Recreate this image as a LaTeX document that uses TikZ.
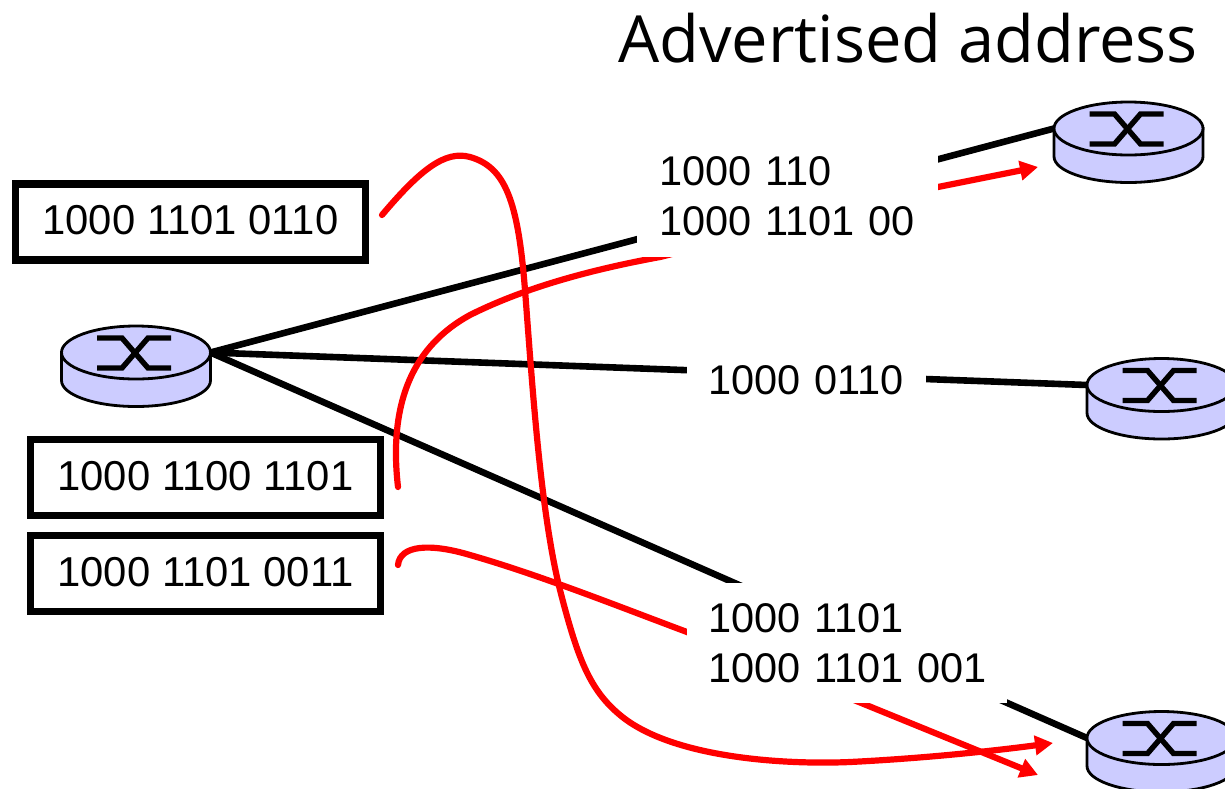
\documentclass[tikz,border=0pt]{standalone}
\usepackage{fontspec}
\setmainfont{Liberation Sans}
\newfontfamily\titlefont{Open Sans}
\usetikzlibrary{shapes.geometric,arrows.meta}
\definecolor{routerfill}{HTML}{CCCCFF}
\definecolor{redline}{HTML}{FF0000}
\tikzset{
  routertop/.style={ellipse,draw=black,fill=routerfill,line width=2.8pt,minimum width=149pt,minimum height=53pt,inner sep=0pt,outer sep=0pt},
  routerside/.style={draw=black,fill=routerfill,line width=2.8pt},
  routercross/.style={draw=black,line width=5.4pt,line join=miter},
  link/.style={draw=black,line width=6.6pt},
  redpath/.style={draw=redline,line width=6.2pt,line cap=round},
  redarrow/.style={redpath,-{Triangle[length=18pt,width=19pt]}},
  addrbox/.style={draw=black,line width=7.4pt,minimum width=350pt,minimum height=76pt,inner sep=0pt,font=\fontsize{41.8}{50}\selectfont},
  mask/.style={fill=white,inner sep=0pt,align=left,anchor=north west,font=\fontsize{41.5}{50}\selectfont},
}
\newcommand{\rtr}[3]{%
  \begin{scope}[shift={(#2,#3)}]
    \path[routerside] (-74.5,0) -- (-74.5,28) arc (180:360:74.5pt and 26pt) -- (74.5,0) -- cycle;
    \node[routertop] (#1) at (0,0) {};
    \draw[routercross] (-39,-14.5) -- (-14,-14.5) -- (12,15.5) -- (35,15.5);
    \draw[routercross] (-39,15.5) -- (-14,15.5) -- (12,-14.5) -- (35,-14.5);
  \end{scope}}
\begin{document}
\begin{tikzpicture}[x=1pt,y=-1pt]
\useasboundingbox (0,0) rectangle (1225,788);
\clip (0,0) rectangle (1225,788);
\rtr{r0}{136}{352.5}
\rtr{r1}{1128.5}{128.5}
\rtr{r2}{1161.5}{385}
\rtr{r3}{1161.5}{738}
\node[addrbox] (b1) at (190.5,222) {\raisebox{4.5pt}{1000 1101 0110}};
\node[addrbox] (b2) at (205.5,477.5) {\raisebox{4pt}{1000 1100 1101}};
\node[addrbox] (b3) at (205.5,573.5) {\raisebox{3.5pt}{1000 1101 0011}};
\draw[link] (r0.east) -- (r1.west);
\draw[link] (r0.east) -- (r2.west);
\draw[link] (r0.east) -- (r3.west);
\coordinate (s1) at (382,215);
\coordinate (e1) at (1053,743);
\coordinate (s2) at (398,487);
\coordinate (e2) at (1038,167);
\coordinate (s3) at (398,565);
\coordinate (e3) at (1038,775);
\draw[redarrow] (s1) .. controls (420,170) and (445,150) .. (470,157)
  .. controls (505,167) and (518,200) .. (525,290)
  .. controls (532,380) and (540,510) .. (560,590)
  .. controls (578,660) and (590,690) .. (620,715)
  .. controls (670,757) and (780,765) .. (850,762)
  .. controls (930,758) and (1000,750) .. (e1);
\draw[redarrow] (s2) .. controls (388,400) and (415,345) .. (470,315)
  .. controls (530,285) and (600,268) .. (660,257)
  -- (938,187) -- (e2);
\draw[redarrow] (s3) .. controls (400,545) and (430,543) .. (470,555)
  .. controls (540,575) and (620,607) .. (687,632) -- (e3);
\node[mask,text width=301pt,minimum height=121pt] (t1) at (637,136) {\hspace*{22pt}1000 110\\\hspace*{22pt}1000 1101 00};
\node[mask,text width=239pt,minimum height=50pt] (t2) at (687,355) {\hspace*{21pt}1000 0110};
\node[mask,text width=320pt,minimum height=120pt] (t3) at (687,583) {\hspace*{21pt}1000 1101\\\hspace*{21pt}1000 1101 001};
\node[anchor=base west,inner sep=0pt,font=\titlefont\fontsize{65}{70}\selectfont] (title) at (618,62) {Advertised address};
\end{tikzpicture}
\end{document}
